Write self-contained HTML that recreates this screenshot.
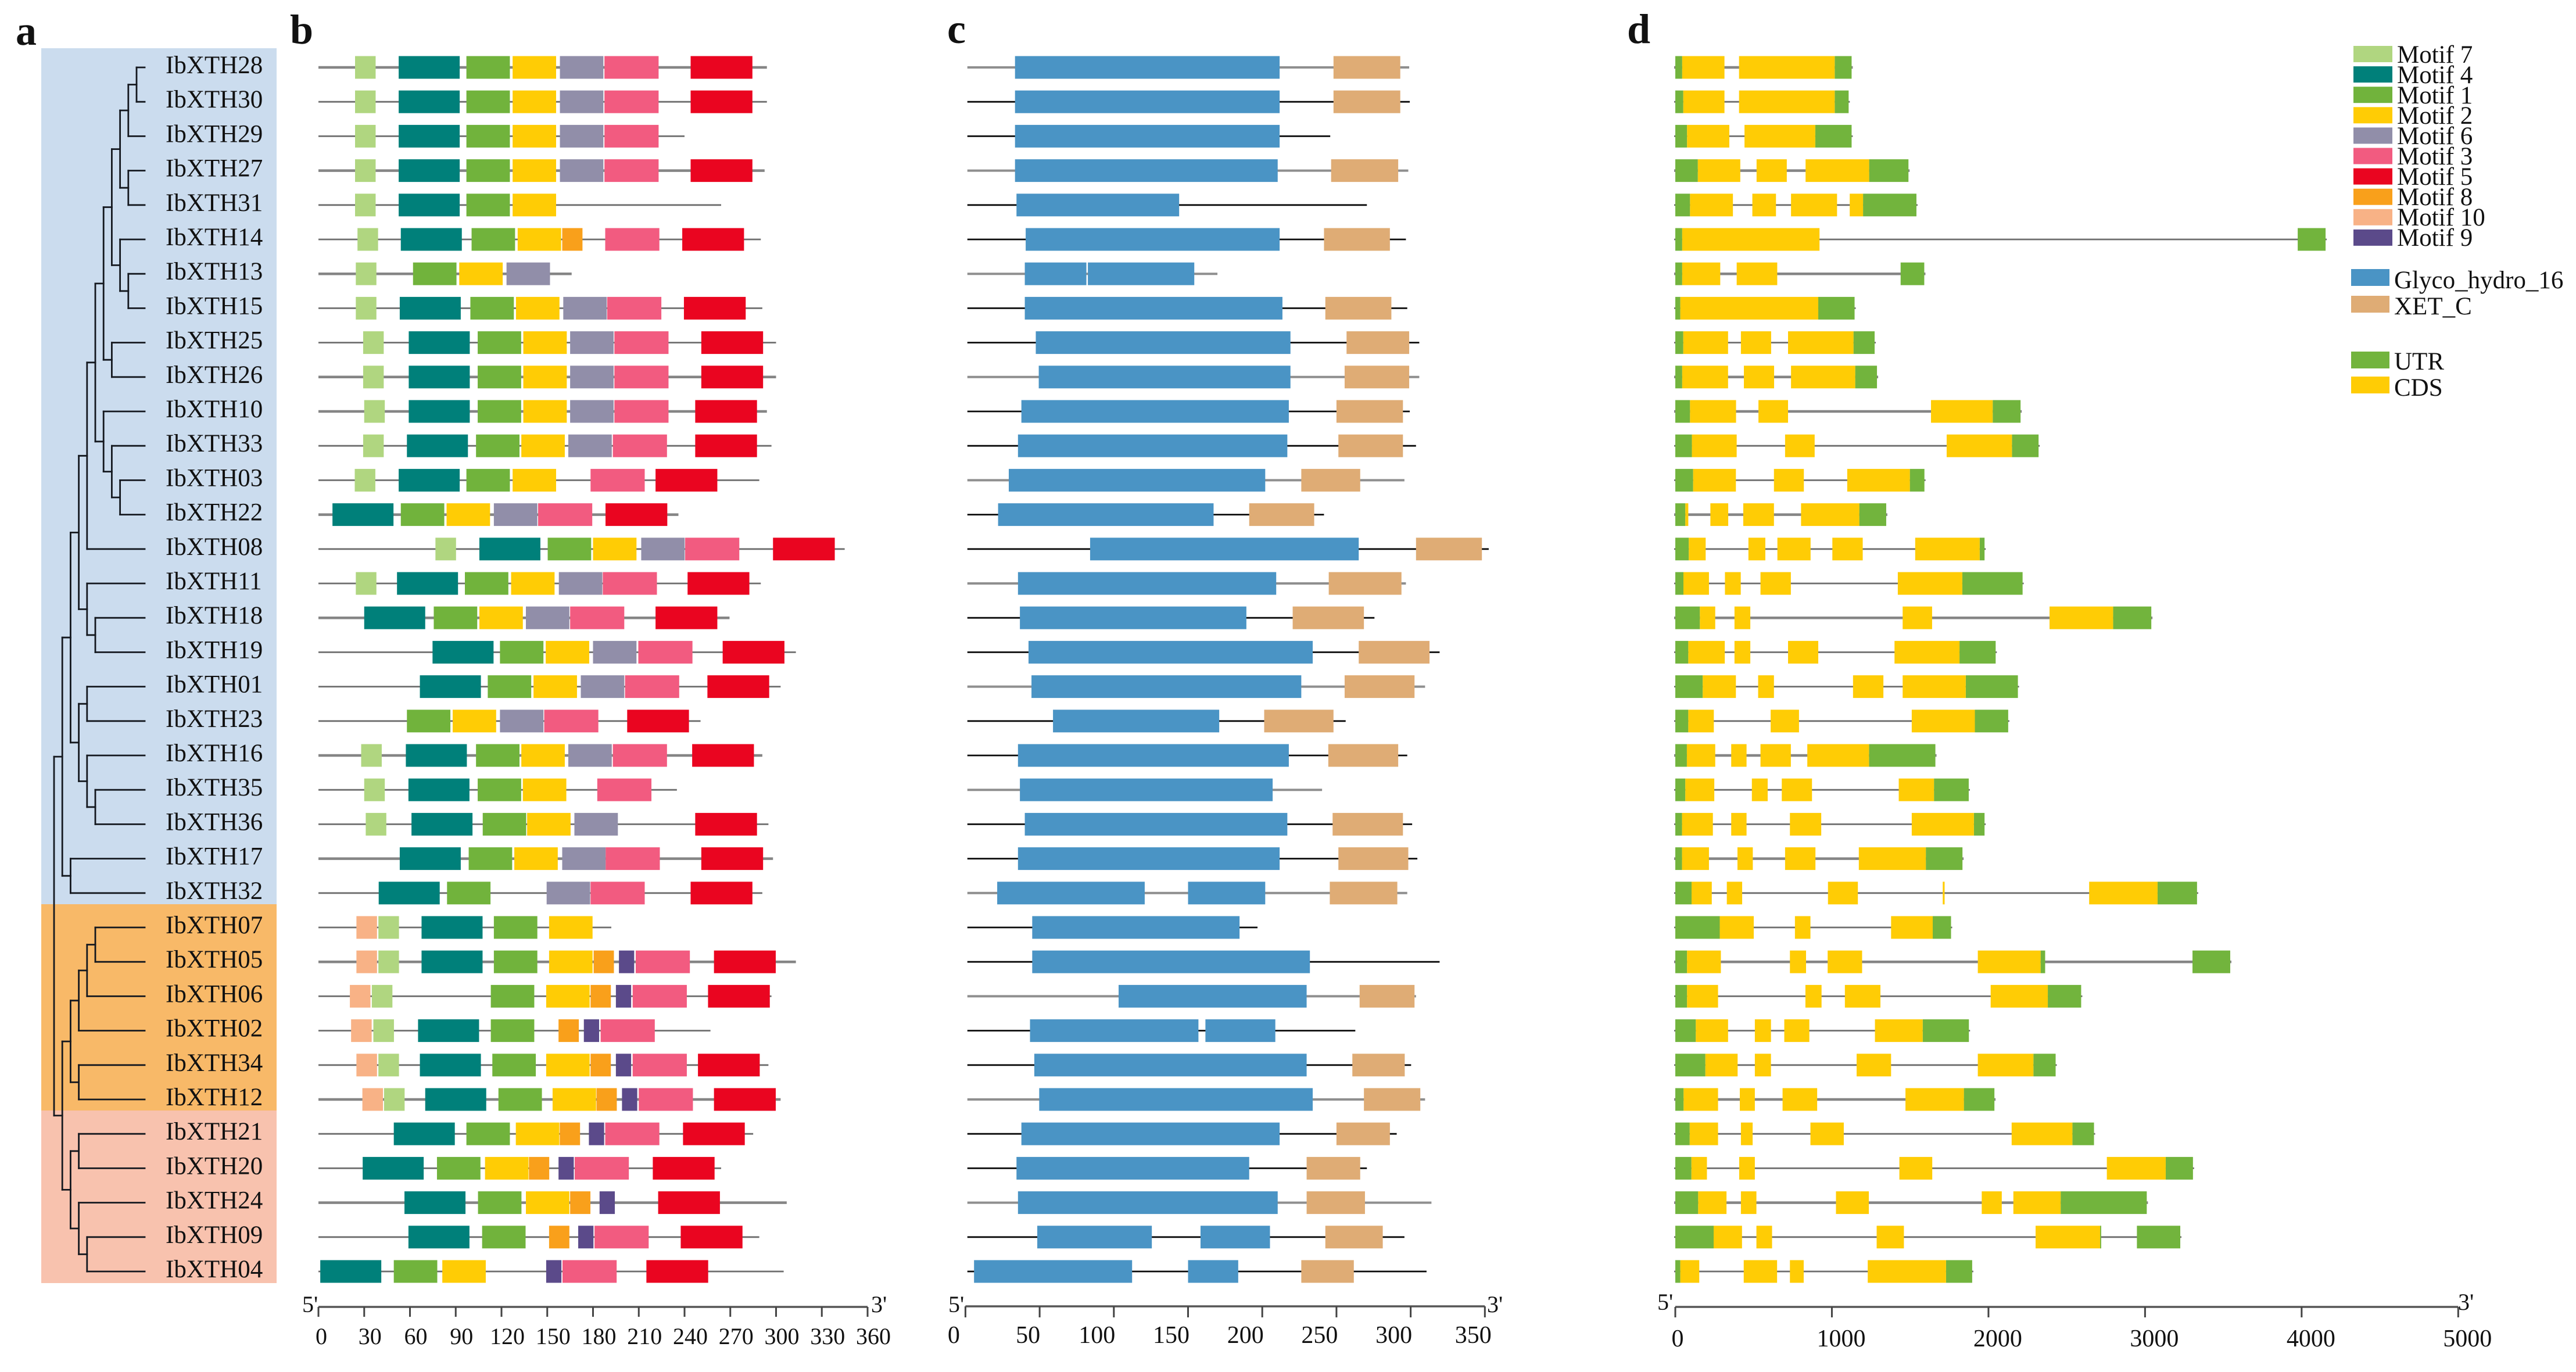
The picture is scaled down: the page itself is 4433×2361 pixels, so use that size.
<!DOCTYPE html>
<html lang="en">
<head>
<meta charset="utf-8">
<title>IbXTH gene family: phylogeny, motifs, domains and gene structure</title>
<style>
  html, body { margin: 0; padding: 0; background: #fff; }
  svg { display: block; }
  text { font-family: "Liberation Serif", serif; fill: #111; }
</style>
</head>
<body>
<svg id="figure" xmlns="http://www.w3.org/2000/svg" width="4433" height="2361" viewBox="0 0 4433 2361">
  <rect x="0" y="0" width="4433" height="2361" fill="#ffffff"/>
  <rect x="71" y="83" width="405" height="1474" fill="#CBDCEE"/>
  <rect x="71" y="1556" width="405" height="356" fill="#F8B968"/>
  <rect x="71" y="1911" width="405" height="297" fill="#F8C2AE"/>
  <text x="27" y="77" font-size="72" font-weight="bold">a</text>
  <text x="499" y="75" font-size="72" font-weight="bold">b</text>
  <text x="1630" y="74" font-size="72" font-weight="bold">c</text>
  <text x="2800" y="74" font-size="72" font-weight="bold">d</text>
  <g id="tree"></g>
  <g id="labels"></g>
  <g id="motifs"></g>
  <g id="domains"></g>
  <g id="structure"></g>
  <g id="legend"></g>
</svg>
<script>
const genes = ["IbXTH28","IbXTH30","IbXTH29","IbXTH27","IbXTH31","IbXTH14","IbXTH13","IbXTH15","IbXTH25","IbXTH26","IbXTH10","IbXTH33","IbXTH03","IbXTH22","IbXTH08","IbXTH11","IbXTH18","IbXTH19","IbXTH01","IbXTH23","IbXTH16","IbXTH35","IbXTH36","IbXTH17","IbXTH32","IbXTH07","IbXTH05","IbXTH06","IbXTH02","IbXTH34","IbXTH12","IbXTH21","IbXTH20","IbXTH24","IbXTH09","IbXTH04"];

// Panel a: tree topology (nesting depth gives the branch level)
const treeTopology = [
  [
    [
      [
        [
          [
            [
              [
                [[["IbXTH28","IbXTH30"],"IbXTH29"],["IbXTH27","IbXTH31"]],
                ["IbXTH14",["IbXTH13","IbXTH15"]]
              ],
              ["IbXTH25","IbXTH26"]
            ],
            ["IbXTH10",["IbXTH33",["IbXTH03","IbXTH22"]]]
          ],
          "IbXTH08"
        ],
        ["IbXTH11",["IbXTH18","IbXTH19"]]
      ],
      [["IbXTH01","IbXTH23"],["IbXTH16",["IbXTH35","IbXTH36"]]]
    ],
    ["IbXTH17","IbXTH32"]
  ],
  [
    [[[["IbXTH07","IbXTH05"],"IbXTH06"],"IbXTH02"],["IbXTH34","IbXTH12"]],
    [["IbXTH21","IbXTH20"],["IbXTH24",["IbXTH09","IbXTH04"]]]
  ]
];

// Panel b: protein lengths (aa) and motif hits [motif, start aa]
const proteinLengths = [294,294,240,292.5,264,290,166,291,300,300,294,297,289,236,345,290,269.5,313,303,250.5,291,235,295,298,291,192,313,297,257,295,303,285,264,307,289,305];
const motifSizes = {7:13.5,4:40,1:28.5,2:28.5,6:28.5,3:35.5,5:40.5,8:13.3,10:13.5,9:10};
const motifHits = [
  [[7,24],[4,52.6],[1,97],[2,127.3],[6,158.3],[3,187.5],[5,244]],
  [[7,24],[4,52.6],[1,97],[2,127.3],[6,158.3],[3,187.5],[5,244]],
  [[7,24],[4,52.6],[1,97],[2,127.3],[6,158.3],[3,187.5]],
  [[7,24],[4,52.6],[1,97],[2,127.3],[6,158.3],[3,187.5],[5,244]],
  [[7,24],[4,52.6],[1,97],[2,127.3]],
  [[7,25.6],[4,54],[1,100.4],[2,130.6],[8,159.8],[3,188],[5,238.5]],
  [[7,24.5],[1,62],[2,92.3],[6,123.3]],
  [[7,24.5],[4,53.3],[1,99.6],[2,129.5],[6,160.5],[3,189.3],[5,239.6]],
  [[7,29.3],[4,59.2],[1,104.4],[2,134.3],[6,165],[3,194],[5,251]],
  [[7,29.3],[4,59.2],[1,104.4],[2,134.3],[6,165],[3,194],[5,251]],
  [[7,30],[4,59.2],[1,104.4],[2,134.3],[6,165],[3,194],[5,247]],
  [[7,29.3],[4,58],[1,103.3],[2,133],[6,163.8],[3,193],[5,247]],
  [[7,23.8],[4,52.6],[1,97],[2,127.3],[3,178.4],[5,221]],
  [[4,9.2],[1,54],[2,84],[6,115],[3,144],[5,188.2]],
  [[7,76.7],[4,105.5],[1,150.3],[2,180],[6,211.6],[3,240.4],[5,298]],
  [[7,24.5],[4,51.5],[1,96],[2,126.3],[6,157.6],[3,186.4],[5,242]],
  [[4,30],[1,75.6],[2,105.5],[6,136],[3,165],[5,221]],
  [[4,74.8],[1,119],[2,149],[6,180],[3,209.7],[5,265]],
  [[4,66.5],[1,111],[2,141],[6,172],[3,201],[5,255]],
  [[1,58],[2,88],[6,119],[3,148],[5,202.4]],
  [[7,28],[4,57.3],[1,103.3],[2,133],[6,163.8],[3,193],[5,245]],
  [[7,30],[4,59],[1,104.4],[2,134],[3,182.8]],
  [[7,31],[4,61],[1,107.7],[2,136.8],[6,167.8],[5,247]],
  [[4,53.3],[1,98.5],[2,128.4],[6,159.8],[3,188.3],[5,251]],
  [[4,39.5],[1,84.3],[6,149.6],[3,178.4],[5,244]],
  [[10,24.9],[7,39.3],[4,67.6],[1,115],[2,151.2]],
  [[10,24.9],[7,39.3],[4,67.6],[1,115],[2,151.2],[8,180.4],[9,197],[3,208],[5,259.3]],
  [[10,20.6],[7,35],[1,113],[2,149.3],[8,178.4],[9,195],[3,206],[5,255.4]],
  [[10,21.4],[7,36],[4,65.3],[1,113],[8,157.4],[9,174],[3,185]],
  [[10,24.9],[7,39.3],[4,66.5],[1,114],[2,149.3],[8,178.4],[9,195],[3,206],[5,248.8]],
  [[10,28.8],[7,43],[4,70],[1,118],[2,153.5],[8,182.3],[9,199],[3,210],[5,259.3]],
  [[4,49.4],[1,97],[2,129.4],[8,158.2],[9,177.3],[3,188],[5,239]],
  [[4,29],[1,77.7],[2,109.2],[8,138],[9,157.4],[3,168],[5,219.2]],
  [[4,56.4],[1,104.6],[2,136],[8,165],[9,184.3],[5,222.7]],
  [[4,59],[1,107.3],[8,151.2],[9,170.3],[3,181],[5,237.5]],
  [[4,1.2],[1,49.4],[2,81.2],[9,149.3],[3,160],[5,215]]
];
const motifTicks = [0,30,60,90,120,150,180,210,240,270,300,330,360];

// Panel c: line lengths (aa), Glyco_hydro_16 segments, XET_C segment per gene
const domainLengths = [299,299.4,245.8,298.4,270.5,296.8,169.8,297.7,305.8,305.8,299.4,303.6,295.8,241.6,352.6,296.8,275.6,319.5,309.7,256.2,297.7,240.3,301,304.5,297.7,196.8,319.5,303.6,262.7,300.3,309.7,290.6,270.5,314,295.8,310.7];
const glycoSegments = [
  [[33.4,211.7]],[[33.4,211.7]],[[33.4,211.7]],[[33.4,210.4]],[[34.4,144]],[[40.6,211.7]],
  [[40,81.5],[82.5,154.2]],[[40,213.6]],[[47.4,219]],[[49.4,219]],[[37.7,217.9]],[[35.4,216.9]],
  [[29.2,202]],[[22,167.2]],[[84,265]],[[35.4,209.4]],[[36.7,189.3]],[[42.5,234]],
  [[44.5,226.3]],[[59,171]],[[35.4,217.9]],[[36.7,207]],[[40,216.9]],[[35.4,211.7]],
  [[21.4,120.8],[150,202]],[[45,184.7]],[[45,232.1]],[[103.2,229.9]],[[43.5,157],[161.7,208.8]],
  [[46.4,229.9]],[[49.7,234]],[[37.7,211.7]],[[34.4,191.2]],[[35.4,210.4]],
  [[48.4,125.6],[158.4,205.2]],[[5.8,112.3],[150,183.8]]
];
const xetSegments = [
  [248,293],[248,293],null,[246.4,291.6],null,[241.6,286],null,[242.5,287],[256.8,299],[255.5,299],
  [250,294.8],[251.3,294.8],[226.3,266],[191.2,235],[303.6,348],[244.8,293.8],[220.5,268.5],[265,312.7],
  [255.5,302.6],[201.3,248],[244.5,291.6],null,[247.4,294.8],[251.3,298.4],[245.5,291],null,null,
  [265.6,302.6],null,[260.7,296],[268.5,306.5],[250,286],[229.9,266],[229.9,269.2],[242.5,281.2],[226.3,261.7]
];
const domainTicks = [0,50,100,150,200,250,300,350];

// Panel d: UTR and CDS segments (bp) per gene
const utrSegments = [
  [[0,44],[1018,1126]],[[0,51],[1018,1107]],[[0,75],[894,1126]],[[0,144],[1238,1489]],[[0,94],[1199,1540]],
  [[0,44],[3975,4153]],[[0,44],[1439,1590]],[[0,32],[913,1145]],[[0,51],[1138,1273]],[[0,44],[1149,1288]],
  [[0,94],[2027,2205]],[[0,106],[2150,2320]],[[0,114],[1498,1591]],[[0,64],[1175,1347]],[[0,86],[1944,1975]],
  [[0,52],[1833,2218]],[[0,157],[2796,3040]],[[0,83],[1815,2046]],[[0,175],[1855,2188]],[[0,83],[1913,2126]],
  [[0,74],[1237,1661]],[[0,64],[1652,1874]],[[0,43],[1907,1975]],[[0,43],[1600,1834]],[[0,104],[3080,3332]],
  [[0,284],[1644,1761]],[[0,75],[2333,2362],[3303,3544]],[[0,75],[2379,2592]],[[0,131],[1580,1875]],
  [[0,192],[2287,2429]],[[0,53],[1843,2038]],[[0,92],[2536,2674]],[[0,103],[3132,3306]],[[0,146],[2461,3011]],
  [[0,245],[2713,2720],[2948,3225]],[[0,32],[1729,1896]]
];
const cdsSegments = [
  [[44,314],[407,1018]],
  [[51,314],[407,1018]],
  [[75,345],[442,894]],
  [[144,415],[519,712],[832,1238]],
  [[94,368],[492,643],[739,1033],[1114,1199]],
  [[44,921]],
  [[44,287],[392,651]],
  [[32,913]],
  [[51,337],[419,612],[720,1138]],
  [[44,337],[438,631],[739,1149]],
  [[94,388],[531,720],[1633,2027]],
  [[106,392],[701,890],[1733,2150]],
  [[114,387],[630,821],[1098,1498]],
  [[64,83],[224,338],[434,630],[803,1175]],
  [[86,194],[467,575],[652,864],[1003,1197],[1532,1944]],
  [[52,215],[317,418],[544,738],[1421,1833]],
  [[157,255],[378,479],[1452,1640],[2390,2796]],
  [[83,316],[378,479],[720,913],[1400,1815]],
  [[175,387],[529,630],[1135,1329],[1452,1855]],
  [[83,246],[609,790],[1510,1913]],
  [[74,255],[357,455],[544,738],[843,1237]],
  [[64,249],[489,590],[680,873],[1427,1652]],
  [[43,240],[357,455],[732,932],[1510,1907]],
  [[43,215],[397,495],[701,895],[1172,1600]],
  [[104,233],[329,427],[975,1166],[1708,1720],[2643,3080]],
  [[284,501],[764,863],[1378,1644]],
  [[75,291],[732,835],[973,1193],[1932,2333]],
  [[75,273],[831,934],[1083,1310],[2014,2379]],
  [[131,337],[508,611],[696,856],[1275,1580]],
  [[192,398],[508,611],[1158,1378],[1932,2287]],
  [[53,273],[412,508],[685,906],[1470,1843]],
  [[92,273],[419,494],[863,1076],[2148,2536]],
  [[103,202],[408,508],[1431,1641],[2756,3132]],
  [[146,327],[419,518],[1026,1236],[1957,2085],[2159,2461]],
  [[245,426],[518,618],[1286,1460],[2301,2713]],
  [[32,153],[437,650],[732,820],[1229,1729]]
];
const structureTicks = [0,1000,2000,3000,4000,5000];

// Legend content
const motifLegend = [7,4,1,2,6,3,5,8,10,9];
const domainLegend = ["Glyco_hydro_16","XET_C"];
const structureLegend = ["UTR","CDS"];

const motifColors = {7:"#B0D680",4:"#00807A",1:"#71B33C",2:"#FFCC05",6:"#918EA9",3:"#F25B80",5:"#EA0520",8:"#F9A01B",10:"#F8B286",9:"#5B4A8A"};
const GLYCO = "#4A94C5", XET = "#DFAC75", UTR = "#72B43D", CDS = "#FFCC05";
const thickLineGenes = ["IbXTH28","IbXTH27","IbXTH13","IbXTH26","IbXTH10","IbXTH22","IbXTH18","IbXTH16","IbXTH17","IbXTH05","IbXTH12","IbXTH24"];

const NS = "http://www.w3.org/2000/svg";
function make(tag, parent, attrs) {
  const el = document.createElementNS(NS, tag);
  for (const k in attrs) el.setAttribute(k, attrs[k]);
  parent.appendChild(el);
  return el;
}
const rowY = i => 116 + 59.2 * i;
const BOX = 39;
const xMotif = v => 548 + 2.625 * v;
const xDomain = v => 1661.4 + 2.554 * v;
const xBase = v => 2883 + 0.26946 * v;
const xTree = depth => 93 + 14.2 * depth;
const TREE_TIP = 249;

function drawLine(parent, x1, x2, i, thick) {
  const ln = make("line", parent, {x1: x1, x2: x2, y1: rowY(i), y2: rowY(i), stroke: thick ? "#858585" : "#6e6e6e", "stroke-width": thick ? 4.5 : 2.8});
  
  
}
function drawBox(parent, x1, x2, i, color, name) {
  const r = make("rect", parent, {x: x1, y: rowY(i) - BOX / 2, width: x2 - x1, height: BOX, fill: color});
  
  
}

/* Panel a: tree */
const treeGroup = document.getElementById("tree");
function treeSeg(x1, y1, x2, y2) {
  const s = make("line", treeGroup, {x1: x1, y1: y1, x2: x2, y2: y2, stroke: "#14181f", "stroke-width": 2.8, "stroke-linecap": "square"});
  
  
}
function layoutNode(node, depth) {
  if (typeof node === "string") {
    return {y: rowY(genes.indexOf(node)), leaf: true};
  }
  const a = layoutNode(node[0], depth + 1);
  const b = layoutNode(node[1], depth + 1);
  const x = xTree(depth);
  const childX = xTree(depth + 1);
  treeSeg(x, a.y, x, b.y);
  [a, b].forEach(c => treeSeg(x, c.y, c.leaf ? TREE_TIP : childX, c.y));
  return {y: (a.y + b.y) / 2, leaf: false};
}
layoutNode(treeTopology, 0);

/* Gene labels */
const labelGroup = document.getElementById("labels");
genes.forEach((g, i) => {
  const t = make("text", labelGroup, {x: 285, y: rowY(i) + 10, "font-size": 43});
  t.textContent = g;
  
  
});

/* Panel b: motifs */
const motifGroup = document.getElementById("motifs");
genes.forEach((g, i) => {
  drawLine(motifGroup, xMotif(0), xMotif(proteinLengths[i]), i, thickLineGenes.includes(g));
  motifHits[i].forEach(hit => {
    const m = hit[0], s = hit[1];
    drawBox(motifGroup, xMotif(s), xMotif(s + motifSizes[m]), i, motifColors[m], "motif-" + m + "-box");
  });
});

/* Panel c: domains */
const domainGroup = document.getElementById("domains");
genes.forEach((g, i) => {
  const grey = i % 3 === 0;
  const ln = make("line", domainGroup, {x1: xDomain(1.3), x2: xDomain(domainLengths[i]), y1: rowY(i), y2: rowY(i), stroke: grey ? "#8f8f8f" : "#0a0a0a", "stroke-width": grey ? 4 : 2.8});
  
  
  glycoSegments[i].forEach(seg => drawBox(domainGroup, xDomain(seg[0]), xDomain(seg[1]), i, GLYCO, "glyco-hydro-16-domain"));
  if (xetSegments[i]) drawBox(domainGroup, xDomain(xetSegments[i][0]), xDomain(xetSegments[i][1]), i, XET, "xet-c-domain");
});

/* Panel d: gene structure */
const structureGroup = document.getElementById("structure");
genes.forEach((g, i) => {
  const utr = utrSegments[i];
  const end = utr[utr.length - 1][1];
  drawLine(structureGroup, xBase(0) - 2, xBase(end) + 2, i, thickLineGenes.includes(g));
  utr.forEach(seg => drawBox(structureGroup, xBase(seg[0]), xBase(seg[1]), i, UTR, "utr-segment"));
  cdsSegments[i].forEach(seg => drawBox(structureGroup, xBase(seg[0]), xBase(seg[1]), i, CDS, "cds-segment"));
});

/* Axes */
function drawAxis(parent, ticks, scale, y, tickLen, labelY, fontSize, labelOffset, primeLeft, primeRight, primeY) {
  const axisLine = make("line", parent, {x1: scale(ticks[0]), x2: scale(ticks[ticks.length - 1]), y1: y, y2: y, stroke: "#555", "stroke-width": 3.5});
  
  
  ticks.forEach(v => {
    const tk = make("line", parent, {x1: scale(v), x2: scale(v), y1: y, y2: y + tickLen, stroke: "#444", "stroke-width": 3});
    
    
    const lb = make("text", parent, {x: scale(v) + labelOffset(v), y: labelY, "font-size": fontSize, "text-anchor": "middle"});
    lb.textContent = v;
    
    
  });
  const five = make("text", parent, {x: primeLeft, y: primeY, "font-size": 40});
  five.textContent = "5'";
  
  
  const three = make("text", parent, {x: primeRight, y: primeY, "font-size": 40});
  three.textContent = "3'";
  
  
}
drawAxis(motifGroup, motifTicks, xMotif, 2249, 17, 2313, 40, v => v === 0 ? 5 : 10, 520, 1499, 2258);
drawAxis(domainGroup, domainTicks, xDomain, 2248, 19, 2311, 42, v => v === 0 || v === 350 || v === 50 ? -20 : -29, 1632, 2559, 2258);
drawAxis(structureGroup, structureTicks, xBase, 2249, 18, 2317, 42, v => v === 0 ? 4 : 16, 2852, 4230, 2254);

/* Legend */
const legendGroup = document.getElementById("legend");
function legendEntry(x, swatchY, h, w, color, textX, baseY, label) {
  const sw = make("rect", legendGroup, {x: x, y: swatchY, width: w, height: h, fill: color});
  
  
  const tx = make("text", legendGroup, {x: textX, y: baseY, "font-size": 43});
  tx.textContent = label;
  
  
}
motifLegend.forEach((m, i) => legendEntry(4050, 79 + 35.1 * i, 28, 67, motifColors[m], 4125, 108 + 35 * i, "Motif " + m));
domainLegend.forEach((d, i) => legendEntry(4046, 463 + 46 * i, 29, 66, i === 0 ? GLYCO : XET, 4120, 496 + 45 * i, d));
structureLegend.forEach((d, i) => legendEntry(4046, 605 + 43 * i, 29, 66, i === 0 ? UTR : CDS, 4120, 636 + 45 * i, d));
</script>
</body>
</html>
